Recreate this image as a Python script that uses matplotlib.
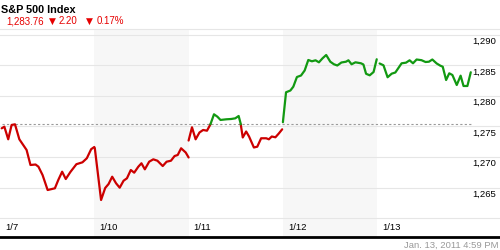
import numpy as np
import matplotlib
matplotlib.use("Agg")
import matplotlib.pyplot as plt
from matplotlib.transforms import ScaledTranslation

plt.rcParams['font.family'] = ['Liberation Sans', 'DejaVu Sans']

# ---------------- data ----------------
days = ['1/7', '1/10', '1/11', '1/12', '1/13']
shaded_days = ['1/10', '1/12']
session_minutes = 390
baseline = 1275.36

y_ticks = [1260, 1265, 1270, 1275, 1280, 1285, 1290]
y_tick_labels = ['', '1,265', '1,270', '1,275', '1,280', '1,285', '1,290']

title = 'S&P 500 Index'
last_price = '1,283.76'
change_pts = '2.20'
change_pct = '0.17%'
stamp = 'Jan. 13, 2011 4:59 PM'

# minutes since open, price
t_0107 = [7, 18, 34, 48, 62, 80, 96, 110, 126, 147, 159, 176, 197, 227, 241, 257,
          272, 291, 316, 341, 359, 377, 390]
p_0107 = [1274.70, 1274.97, 1272.90, 1275.25, 1275.36, 1272.90, 1271.97, 1271.15,
          1268.69, 1268.77, 1268.41, 1267.05, 1264.59, 1264.87, 1266.23, 1267.59,
          1266.39, 1267.54, 1268.82, 1269.13, 1269.79, 1271.28, 1271.64]

t_0110 = [2, 28, 45, 59, 74, 90, 105, 121, 135, 151, 165, 182, 195, 209, 227, 244,
          261, 283, 299, 317, 332, 345, 359, 378, 390]
p_0110 = [1271.48, 1262.95, 1264.92, 1265.57, 1266.77, 1265.69, 1264.97, 1266.11,
          1266.51, 1267.87, 1267.43, 1268.41, 1268.97, 1267.98, 1269.23, 1269.62,
          1269.39, 1268.52, 1269.23, 1269.39, 1270.16, 1270.33, 1271.43, 1270.74,
          1269.92]

t_0111 = [0, 14, 29, 45, 60, 76, 90, 105, 119, 132, 156, 176, 193, 207, 215, 224,
          238, 250, 270, 284, 300, 321, 332, 344, 359, 373, 387]
p_0111 = [1272.70, 1274.87, 1272.90, 1274.02, 1274.43, 1274.31, 1275.33, 1277.00,
          1276.61, 1276.07, 1276.18, 1276.23, 1276.34, 1276.72, 1275.52, 1273.20,
          1274.18, 1273.36, 1271.56, 1271.69, 1273.07, 1273.07, 1272.90, 1273.36,
          1273.23, 1273.85, 1274.54]

t_0112 = [0, 13, 31, 43, 58, 75, 90, 105, 120, 135, 149, 164, 179, 196, 211, 225,
          242, 261, 271, 284, 300, 323, 333, 344, 359, 375, 388]
p_0112 = [1275.70, 1280.61, 1280.90, 1281.52, 1283.11, 1283.36, 1284.18, 1285.90,
          1285.69, 1285.85, 1285.52, 1286.18, 1286.72, 1285.62, 1285.20, 1285.00,
          1285.49, 1285.62, 1285.85, 1285.20, 1285.52, 1285.36, 1285.16, 1283.64,
          1283.39, 1283.93, 1286.02]

t_0113 = [10, 26, 43, 60, 75, 101, 119, 134, 148, 163, 183, 200, 214, 228, 246, 261,
          271, 285, 298, 311, 329, 345, 357, 373, 387]
p_0113 = [1285.33, 1285.03, 1283.07, 1283.66, 1283.85, 1285.36, 1285.46, 1285.85,
          1285.36, 1285.98, 1285.87, 1285.57, 1285.62, 1285.98, 1285.33, 1284.97,
          1284.80, 1282.62, 1283.72, 1283.44, 1281.80, 1283.33, 1281.64, 1281.64,
          1283.89]

sessions = [(t_0107, p_0107), (t_0110, p_0110), (t_0111, p_0111),
            (t_0112, p_0112), (t_0113, p_0113)]

# ---------------- styles ----------------
RED_LINE = '#cc0000'
GREEN_LINE = '#129912'
RED_TEXT = '#e60000'
GRID = '#e6e6e6'
SHADE = '#f7f7f7'

W, H = 500, 250
fig = plt.figure(figsize=(W / 100, H / 100), dpi=100)
ax_top_px, ax_bot_px = 29, 236.5
ax = fig.add_axes([0, 1 - ax_bot_px / H, 1, (ax_bot_px - ax_top_px) / H])

day_px = 94.3
ax.set_xlim(0, W / day_px)
ax.set_ylim(1256.97, 1290.98)

for i, d in enumerate(days):
    if d in shaded_days:
        ax.axvspan(i, i + 1, color=SHADE, zorder=0, lw=0)

ax.set_yticks(y_ticks)
ax.set_axisbelow(True)
ax.grid(axis='y', color=GRID, lw=0.8)
ax.grid(axis='x', visible=False)
ax.tick_params(left=False, labelleft=False, bottom=False, labelbottom=False)
for s in ['left', 'right']:
    ax.spines[s].set_visible(False)
ax.spines['top'].set_color(GRID)
ax.spines['top'].set_linewidth(0.8)
ax.spines['bottom'].set_color('black')
ax.spines['bottom'].set_linewidth(2)

# baseline (previous close)
x_start = sessions[0][0][0] / session_minutes
x_end = len(days) - 1 + sessions[-1][0][-1] / session_minutes
ax.hlines(baseline, x_start, x_end, colors='#9a9a9a', linestyles=(0, (2, 2)),
          lw=0.8, zorder=2)


def with_crossings(x, y, base):
    xs, ys = [x[0]], [y[0]]
    for k in range(1, len(x)):
        y0, y1 = y[k - 1], y[k]
        if (y0 - base) * (y1 - base) < 0:
            f = (base - y0) / (y1 - y0)
            xs.append(x[k - 1] + f * (x[k] - x[k - 1]))
            ys.append(base)
        xs.append(x[k])
        ys.append(y[k])
    return np.array(xs), np.array(ys)


for i, (t, p) in enumerate(sessions):
    x = i + np.array(t) / session_minutes
    xs, ys = with_crossings(x, np.array(p), baseline)
    red = np.where(ys <= baseline + 1e-9, ys, np.nan)
    green = np.where(ys >= baseline - 1e-9, ys, np.nan)
    ax.plot(xs, red, color=RED_LINE, lw=1.6, solid_joinstyle='round',
            solid_capstyle='round', zorder=3)
    ax.plot(xs, green, color=GREEN_LINE, lw=1.6, solid_joinstyle='round',
            solid_capstyle='round', zorder=3)

# y labels inside the plot at right
ytrans = ax.get_yaxis_transform() + ScaledTranslation(0, -2 / 100, fig.dpi_scale_trans)
for v, lab in zip(y_ticks, y_tick_labels):
    if lab:
        ax.text(472 / W, v, lab, transform=ytrans, ha='left', va='top',
                fontsize=6.8, color='black')

# x day labels
xtrans = ax.get_xaxis_transform()
for i, d in enumerate(days):
    ax.text(i + 5 / day_px, (ax_bot_px - 227.7) / (ax_bot_px - ax_top_px), d,
            transform=xtrans, ha='left', va='center', fontsize=6.8, color='black')

# header texts
def fx(px):
    return px / W


def fy(py):
    return 1 - py / H


fig.text(fx(1), fy(12.7), title, fontsize=7.8, fontweight='bold', ha='left',
         va='baseline', color='black')
fig.text(fx(6), fy(24), last_price, fontsize=7, ha='left', va='baseline', color=RED_TEXT)
fig.text(fx(48.5), fy(23.5), '\u25bc', fontsize=6.5, ha='left', va='baseline',
         color=RED_TEXT, family=['DejaVu Sans'])
fig.text(fx(59), fy(24), change_pts, fontsize=7, ha='left', va='baseline', color=RED_TEXT)
fig.text(fx(86), fy(23.5), '\u25bc', fontsize=6.5, ha='left', va='baseline',
         color=RED_TEXT, family=['DejaVu Sans'])
fig.text(fx(97), fy(24), change_pct, fontsize=7, ha='left', va='baseline', color=RED_TEXT)

fig.text(fx(498), fy(248), stamp, fontsize=6.8, ha='right', va='baseline', color='#999999')

fig.savefig('out.png', dpi=100)
